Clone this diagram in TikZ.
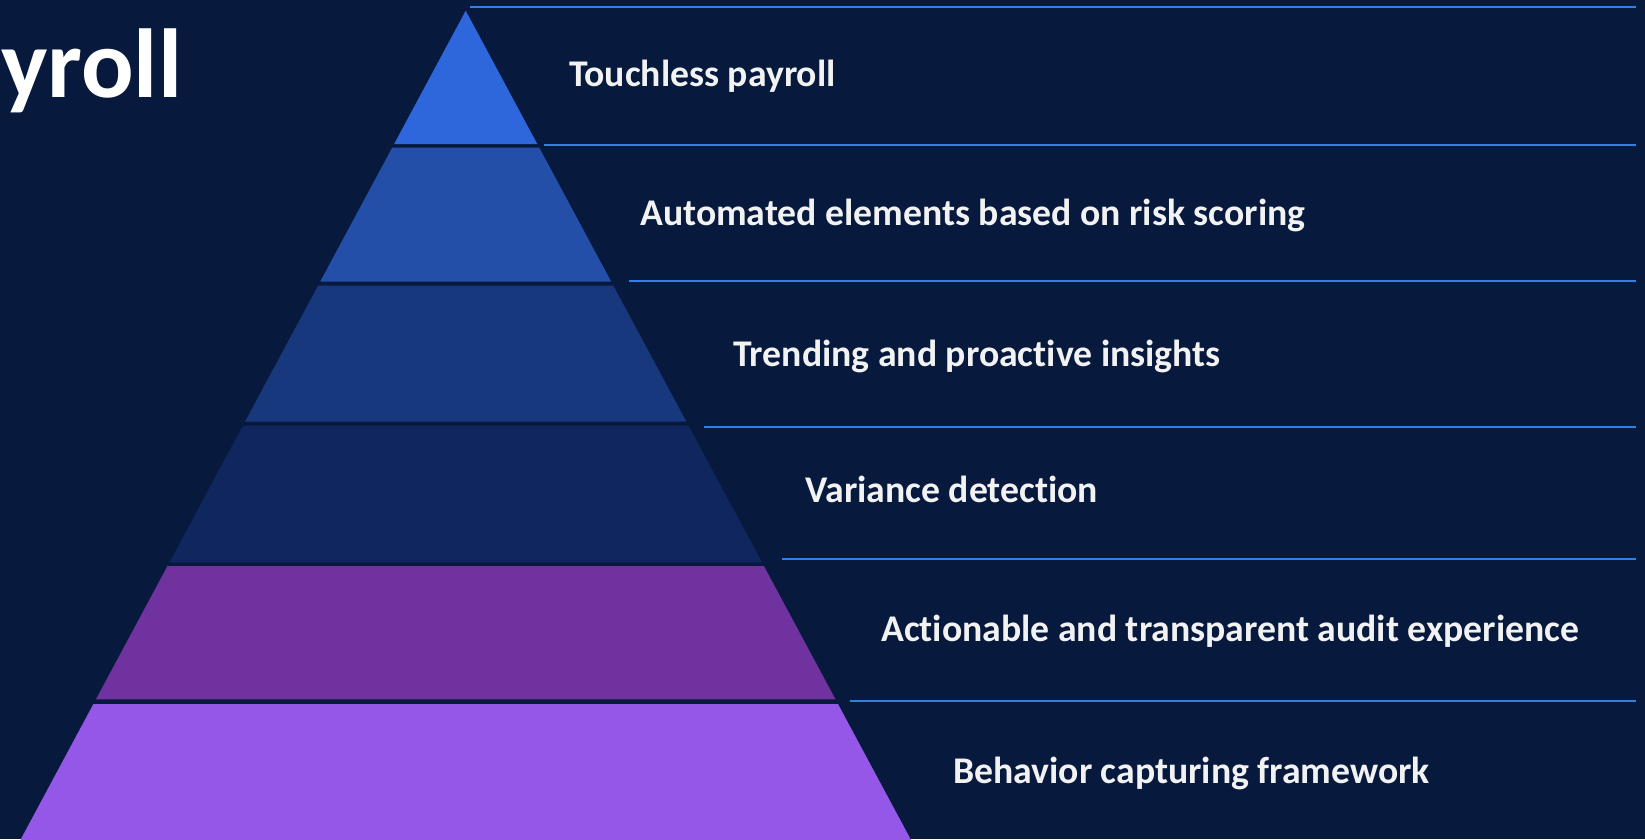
\documentclass[tikz,border=0pt]{standalone}
\usepackage{fontspec}
\setmainfont{Carlito}[Ligatures={NoCommon}, RawFeature={-liga;-clig}]
\usetikzlibrary{positioning}

\definecolor{bgnavy}{HTML}{071A3D}
\definecolor{sepblue}{HTML}{2F7FE6}
\definecolor{tierA}{HTML}{2E67DB}
\definecolor{tierB}{HTML}{234FA8}
\definecolor{tierC}{HTML}{18387D}
\definecolor{tierD}{HTML}{10265E}
\definecolor{tierE}{HTML}{6F329F}
\definecolor{tierF}{HTML}{9457E8}

\begin{document}
\begin{tikzpicture}[x=1pt,y=-1pt,
  tiertext/.style={anchor=base west, inner sep=0pt, text=white!95!black,
                   font=\fontsize{37.7}{41}\selectfont\bfseries},
  sepline/.style={sepblue, line width=1.4pt}
  ]

  \useasboundingbox (0,0) rectangle (1645,839);
  \fill[bgnavy] (0,0) rectangle (1645,839);
  \clip (0,0) rectangle (1645,839);

  % pyramid tiers: top y / bottom y / colour
  \foreach \ty/\by/\col in {10.7/144/tierA, 147.7/281.5/tierB,
                           285.5/421.5/tierC, 425.5/562.3/tierD,
                           566/699.3/tierE, 704/860/tierF}{
    \pgfmathsetmacro\tl{465.7-0.537*(\ty-10.7)}
    \pgfmathsetmacro\tr{465.7+0.537*(\ty-10.7)}
    \pgfmathsetmacro\bl{465.7-0.537*(\by-10.7)}
    \pgfmathsetmacro\br{465.7+0.537*(\by-10.7)}
    \fill[\col] (\tl,\ty) -- (\tr,\ty) -- (\br,\by) -- (\bl,\by) -- cycle;
  }

  % separator lines
  \foreach \sx/\sy in {470/7, 544/145, 629/281, 704/427, 782/559, 850/701}
    \draw[sepline] (\sx,\sy) -- (1636,\sy);

  \node[anchor=base west, inner sep=0pt, text=white,
        font=\fontsize{98}{104}\selectfont\bfseries] (title) at (1,97) {yroll};

  \node[tiertext] (touchless) at (569,86.7) {Touchless payroll};
  \node[tiertext] (automated) at (640,225) {Automated elements based on risk scoring};
  \node[tiertext] (trending)  at (733,366) {Trending and proactive insights};
  \node[tiertext] (variance)  at (805,502) {Variance detection};
  \node[tiertext] (audit)     at (881,641) {Actionable and transparent audit experience};
  \node[tiertext] (behavior)  at (953,783) {Behavior capturing framework};

\end{tikzpicture}
\end{document}
